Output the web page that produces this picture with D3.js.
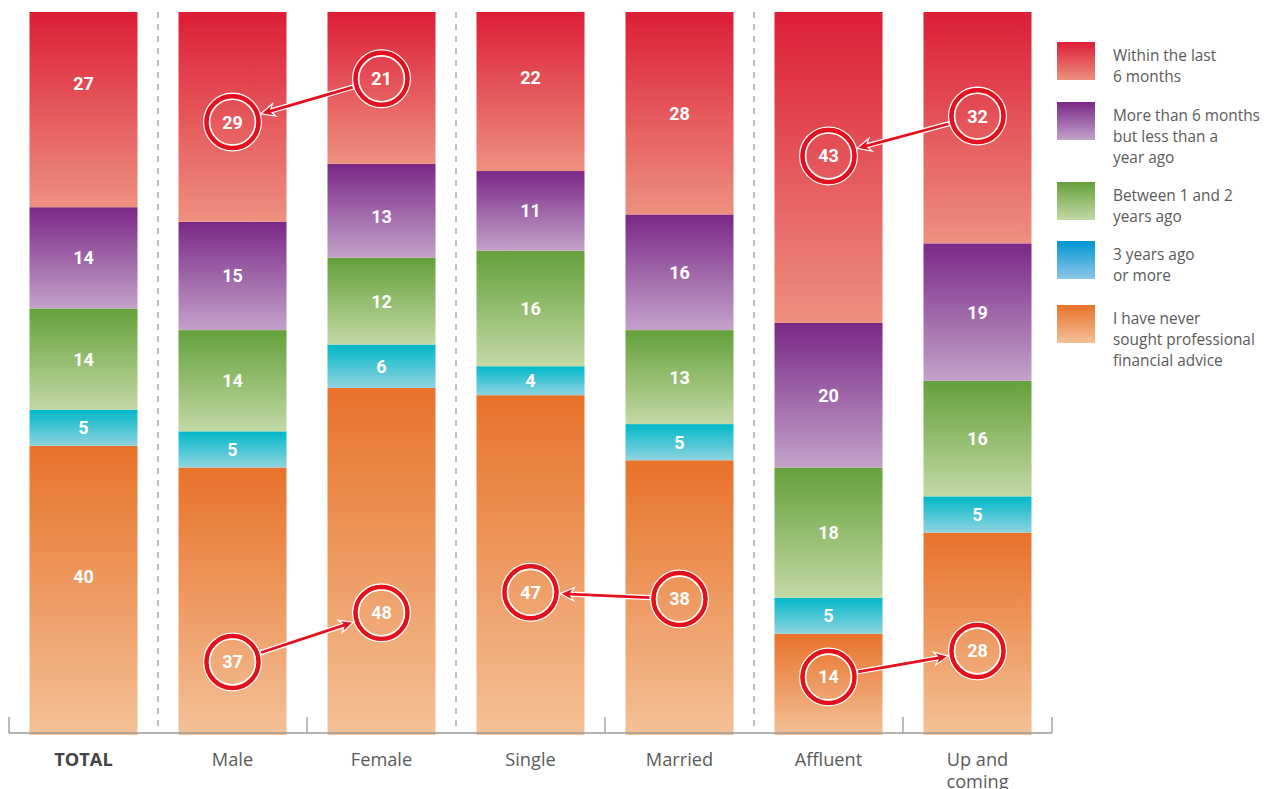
<!DOCTYPE html>
<html>
<head>
<meta charset="utf-8">
<script src="https://cdn.jsdelivr.net/npm/d3@7"></script>
<style>
  html, body { margin: 0; padding: 0; background: #fff; }
  svg { display: block; }
  text { font-family: "Open Sans", Roboto, "Liberation Sans", Arial, sans-serif; }
  text.val { font-family: Roboto, "Liberation Sans", Arial, sans-serif; }
</style>
</head>
<body>
<svg id="chart" width="1265" height="789"></svg>
<script>
// Groups along the x axis
const categories = ["TOTAL", "Male", "Female", "Single", "Married", "Affluent", "Up and coming"];

// Share (%) per answer, one array per answer, in category order
const within6Months   = [27, 29, 21, 22, 28, 43, 32];
const sixMonthsToYear = [14, 15, 13, 11, 16, 20, 19];
const oneToTwoYears   = [14, 14, 12, 16, 13, 18, 16];
const threeYearsPlus  = [5, 5, 6, 4, 5, 5, 5];
const neverSought     = [40, 37, 48, 47, 38, 14, 28];

// Legend texts, one array of lines per answer
const legendLines = [
  ["Within the last", "6 months"],
  ["More than 6 months", "but less than a", "year ago"],
  ["Between 1 and 2", "years ago"],
  ["3 years ago", "or more"],
  ["I have never", "sought professional", "financial advice"]
];

// Highlighted comparisons: arrow runs from one circled value to another
const comparisons = [
  { from: ["Female", 0], to: ["Male", 0] },
  { from: ["Male", 4], to: ["Female", 4] },
  { from: ["Married", 4], to: ["Single", 4] },
  { from: ["Up and coming", 0], to: ["Affluent", 0] },
  { from: ["Affluent", 4], to: ["Up and coming", 4] }
];

// Where inside a segment a value label sits (0 = bottom, 1 = top); default 0.5
const labelAt = {
  "TOTAL|0": 0.636, "TOTAL|4": 0.547, "Single|0": 0.585, "Female|1": 0.44,
  "Male|0": 0.475, "Female|0": 0.56, "Male|4": 0.273, "Female|4": 0.352,
  "Single|4": 0.42, "Married|4": 0.495, "Affluent|0": 0.537, "Up and coming|0": 0.55,
  "Affluent|4": 0.573, "Up and coming|4": 0.415
};

// Top and bottom colours of each answer's fill
const barColors = [
  ["#dc1d36", "#ee917f"],
  ["#7a2886", "#c3a2ca"],
  ["#64a03a", "#c3d9a5"],
  ["#00b8c9", "#90d3df"],
  ["#e8722a", "#f4c197"]
];
const legendColors = [
  ["#dc1d36", "#ee917f"],
  ["#7a2886", "#c3a2ca"],
  ["#64a03a", "#c3d9a5"],
  ["#0096d1", "#8fc6ea"],
  ["#e8722a", "#f4c197"]
];

const seriesValues = [within6Months, sixMonthsToYear, oneToTwoYears, threeYearsPlus, neverSought];

const svg = d3.select("#chart");
const defs = svg.append("defs");

function addGradient(id, [c0, c1]) {
  const g = defs.append("linearGradient").attr("id", id)
    .attr("x1", 0).attr("y1", 0).attr("x2", 0).attr("y2", 1);
  g.append("stop").attr("offset", "0%").attr("stop-color", c0);
  g.append("stop").attr("offset", "100%").attr("stop-color", c1);
}
barColors.forEach((c, i) => addGradient("bar" + i, c));
legendColors.forEach((c, i) => addGradient("leg" + i, c));

const x = d3.scaleBand().domain(categories).range([9, 1052])
  .paddingInner(0.275).paddingOuter(0.1375);
const y = d3.scaleLinear().domain([0, 100]).range([735, 12]);
const axisY = y(0) - 2;

// Stack from the bottom: never sought first, within 6 months on top
const rows = categories.map((c, ci) => {
  const r = { category: c };
  seriesValues.forEach((arr, si) => { r["s" + si] = arr[ci]; });
  return r;
});
const stackKeys = ["s4", "s3", "s2", "s1", "s0"];
const stacked = d3.stack().keys(stackKeys)(rows);

// Group boundaries; dashed separators after TOTAL, Female and Married
const step = x.step();
const boundaries = d3.range(categories.length + 1).map(i => x(categories[0]) - x.paddingOuter() * step + i * step);
const dashedAfter = [0, 2, 4];
svg.append("g").selectAll("line").data(dashedAfter).join("line")
  .attr("x1", i => boundaries[i + 1]).attr("x2", i => boundaries[i + 1])
  .attr("y1", y(100)).attr("y2", axisY)
  .attr("stroke", "#9a9a9a").attr("stroke-width", 1.3)
  .attr("stroke-dasharray", "6,6");

// Bars
const segG = svg.append("g");
stacked.forEach(layer => {
  const si = +layer.key.slice(1);
  segG.selectAll(null).data(layer).join("rect")
    .attr("x", d => x(d.data.category))
    .attr("width", x.bandwidth())
    .attr("y", d => y(d[1]))
    .attr("height", d => y(d[0]) - y(d[1]))
    .attr("fill", `url(#bar${si})`);
});

// Axis line and ticks at group boundaries
const axisG = svg.append("g");
axisG.append("line")
  .attr("x1", boundaries[0]).attr("x2", boundaries[boundaries.length - 1])
  .attr("y1", axisY).attr("y2", axisY)
  .attr("stroke", "#9a9a9a").attr("stroke-width", 1.3);
axisG.selectAll("line.tick").data(boundaries.filter((b, i) => !dashedAfter.includes(i - 1)))
  .join("line").attr("class", "tick")
  .attr("x1", d => d).attr("x2", d => d)
  .attr("y1", axisY - 16).attr("y2", axisY)
  .attr("stroke", "#9a9a9a").attr("stroke-width", 1.3);

// Category labels (the last one wraps onto two lines)
const catG = svg.append("g");
categories.forEach(c => {
  const words = c === "Up and coming" ? ["Up and", "coming"] : [c];
  const cx = x(c) + x.bandwidth() / 2;
  words.forEach((w, i) => catG.append("text")
    .attr("x", cx)
    .attr("y", 766 + i * 22)
    .attr("text-anchor", "middle")
    .attr("font-size", 18.2)
    .attr("fill", c === "TOTAL" ? "#444" : "#5a5a5a")
    .attr("font-weight", c === "TOTAL" ? "bold" : "normal")
    .text(w));
});

// Value label positions
function labelPos(category, si) {
  const layer = stacked[stackKeys.indexOf("s" + si)];
  const d = layer[categories.indexOf(category)];
  const f = labelAt[category + "|" + si] ?? 0.5;
  return {
    x: x(category) + x.bandwidth() / 2,
    y: y(d[0] + (d[1] - d[0]) * f)
  };
}

const circled = new Set();
comparisons.forEach(c => { circled.add(c.from.join("|")); circled.add(c.to.join("|")); });

// Rings around the circled values
const R = 26;
const circG = svg.append("g");
circled.forEach(key => {
  const [c, s] = key.split("|");
  const p = labelPos(c, +s);
  circG.append("circle").attr("cx", p.x).attr("cy", p.y).attr("r", R + 2.8)
    .attr("fill", "none").attr("stroke", "#fff").attr("stroke-width", 1.4);
  circG.append("circle").attr("cx", p.x).attr("cy", p.y).attr("r", R)
    .attr("fill", "none").attr("stroke", "#e3111f").attr("stroke-width", 4.4);
  circG.append("circle").attr("cx", p.x).attr("cy", p.y).attr("r", R - 3.1)
    .attr("fill", "none").attr("stroke", "#fff").attr("stroke-width", 1.6);
});

// Arrows between circled values
const arrowG = svg.append("g");
comparisons.forEach(c => {
  const a = labelPos(c.from[0], c.from[1]);
  const b = labelPos(c.to[0], c.to[1]);
  const dx = b.x - a.x, dy = b.y - a.y;
  const len = Math.hypot(dx, dy);
  const ux = dx / len, uy = dy / len;
  const off = R + 3.5;
  const x1 = a.x + ux * off, y1 = a.y + uy * off;
  const x2 = b.x - ux * off, y2 = b.y - uy * off;
  const ang = Math.atan2(dy, dx) * 180 / Math.PI;
  const L = Math.hypot(x2 - x1, y2 - y1);
  const g = arrowG.append("g").attr("transform", `translate(${x1},${y1}) rotate(${ang})`);
  // shaft and barbed head drawn as one outline
  const head = 14, hw = 6.5, sw = 2;
  const path = `M0,${-sw} L${L - head + 3},${-sw} L${L - head},${-hw} L${L},0 L${L - head},${hw} L${L - head + 3},${sw} L0,${sw} Z`;
  g.append("path").attr("d", path)
    .attr("fill", "#e3111f").attr("stroke", "#fff").attr("stroke-width", 1.2)
    .attr("stroke-linejoin", "miter");
});

// Value labels
const valG = svg.append("g");
categories.forEach((c, ci) => {
  seriesValues.forEach((arr, si) => {
    const p = labelPos(c, si);
    valG.append("text").attr("class", "val")
      .attr("x", p.x).attr("y", p.y)
      .attr("dy", "0.36em")
      .attr("text-anchor", "middle")
      .attr("font-size", 18)
      .attr("font-weight", "bold")
      .attr("fill", "#fff")
      .text(arr[ci]);
  });
});

// Legend
const legTops = [42, 102, 182, 241, 305];
const legG = svg.append("g");
legendLines.forEach((lines, i) => {
  legG.append("rect").attr("x", 1057).attr("y", legTops[i])
    .attr("width", 38).attr("height", 38).attr("fill", `url(#leg${i})`);
  lines.forEach((l, j) => legG.append("text")
    .attr("x", 1113).attr("y", legTops[i] + 19 + j * 20.8)
    .attr("font-size", 15.4).attr("fill", "#5a5a5a")
    .text(l));
});
</script>
</body>
</html>
